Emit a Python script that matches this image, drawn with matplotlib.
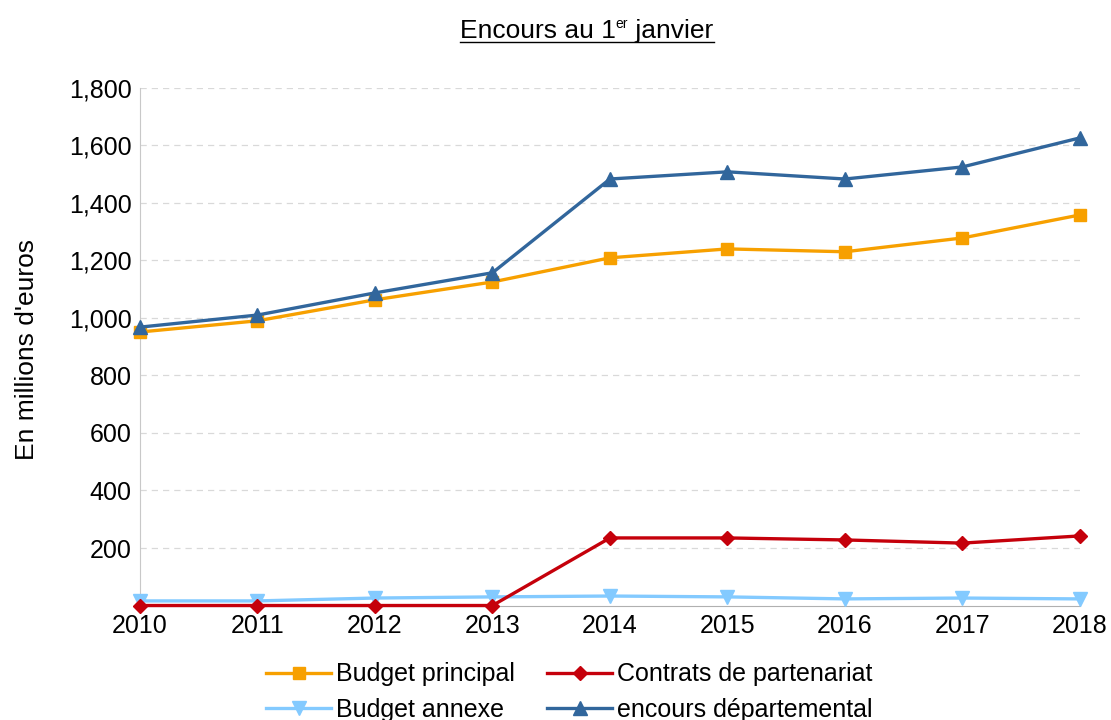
import matplotlib.pyplot as plt
from matplotlib.lines import Line2D

plt.rcParams['font.family'] = ['Liberation Sans', 'DejaVu Sans']

years = [2010, 2011, 2012, 2013, 2014, 2015, 2016, 2017, 2018]
budget_principal = [951, 990, 1063, 1125, 1209, 1240, 1230, 1278, 1358]
contrats = [0, 0, 0, 0, 235, 235, 228, 217, 242]
budget_annexe = [16, 16, 26, 30, 33, 30, 23, 26, 23]
encours = [968, 1010, 1087, 1157, 1483, 1508, 1483, 1525, 1626]

fig = plt.figure(figsize=(11.11, 7.2), dpi=100)
ax = fig.add_axes([0.126, 0.159, 0.846, 0.719])

lw = 2.4
l1, = ax.plot(years, budget_principal, color="#f7a000", lw=lw, marker="s", ms=9, label="Budget principal", clip_on=False, zorder=3)
l2, = ax.plot(years, budget_annexe, color="#83caff", lw=lw, marker="v", ms=10, label="Budget annexe", clip_on=False, zorder=3)
l3, = ax.plot(years, contrats, color="#c5000b", lw=lw, marker="D", ms=7, label="Contrats de partenariat", clip_on=False, zorder=4)
l4, = ax.plot(years, encours, color="#31669c", lw=lw, marker="^", ms=10, label="encours départemental", clip_on=False, zorder=3)

ax.set_xlim(2010, 2018)
ax.set_ylim(0, 1800)
ax.set_xticks(years)
ax.set_yticks(range(200, 1801, 200))
ax.set_yticklabels([f"{v:,}" for v in range(200, 1801, 200)])
ax.tick_params(length=0, labelsize=18, pad=6)
ax.grid(axis="y", color="#d9d9d9", ls=(0, (5, 4)), lw=0.9)
ax.set_axisbelow(True)
for s in ["top", "right"]:
    ax.spines[s].set_visible(False)
ax.spines["left"].set_color("#c8c8c8")
ax.spines["bottom"].set_color("#b0b0b0")

fig.text(0.024, 0.514, "En millions d'euros", rotation=90, va="center", ha="center", fontsize=19)

ax.legend(handles=[l1, l2, l3, l4], ncol=2, loc="upper center", bbox_to_anchor=(0.457, -0.076),
          frameon=False, fontsize=18, handlelength=2.6, columnspacing=1.3, labelspacing=0.45,
          handletextpad=0.2, borderpad=0.2)

# title with superscript and underline
fig.canvas.draw()
r = fig.canvas.get_renderer()
ty = 1 - 38 / 720
x0 = 460 / 1111
t1 = fig.text(x0, ty, "Encours au 1", fontsize=19, va="baseline")
b1 = t1.get_window_extent(r)
x2 = b1.x1 / fig.bbox.width
t2 = fig.text(x2, ty + 10 / 720, "er", fontsize=10, va="baseline")
b2 = t2.get_window_extent(r)
x3 = b2.x1 / fig.bbox.width
t3 = fig.text(x3, ty, " janvier", fontsize=19, va="baseline")
b3 = t3.get_window_extent(r)
uy = ty - 4 / 720
fig.add_artist(Line2D([x0, b3.x1 / fig.bbox.width], [uy, uy], color="black", lw=1, transform=fig.transFigure))

plt.savefig("out.png", dpi=100)
